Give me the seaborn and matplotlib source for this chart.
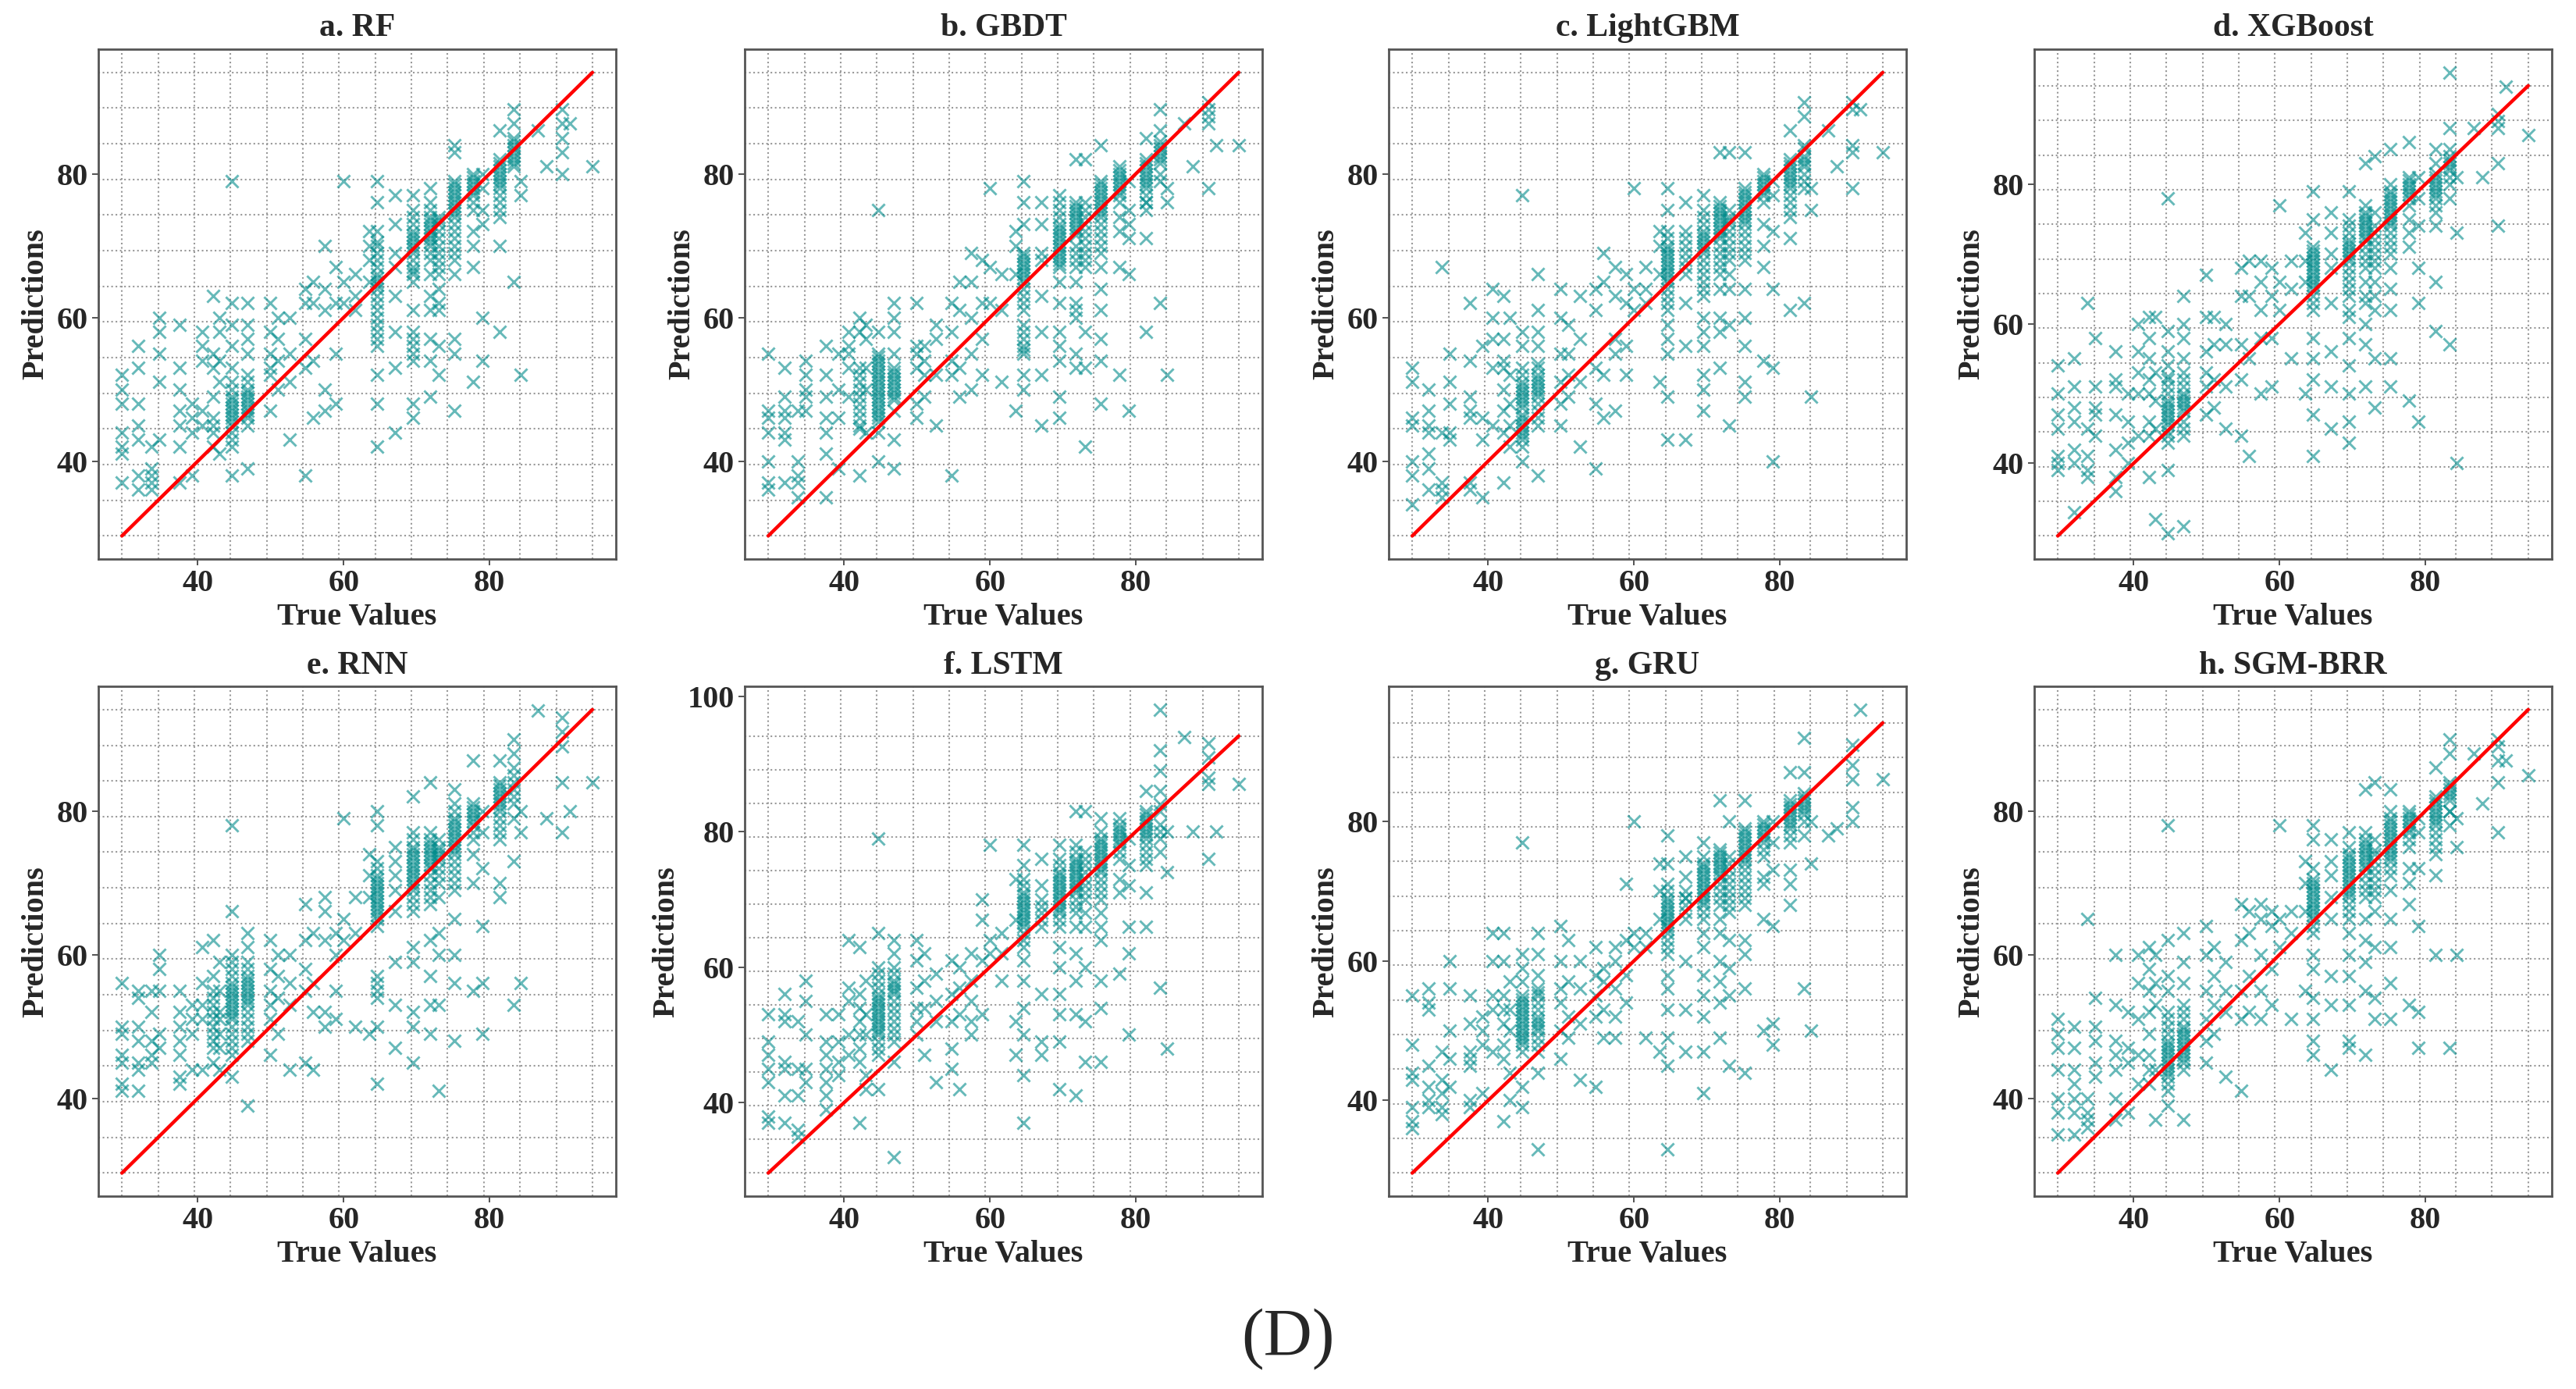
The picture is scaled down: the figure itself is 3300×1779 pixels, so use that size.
import numpy as np
import matplotlib
matplotlib.use("Agg")
import matplotlib.pyplot as plt
from matplotlib.ticker import MultipleLocator
import seaborn as sns

# true values (x columns of the test set) shared by every panel
true_cols = [29.6, 31.8, 33.6, 34.7, 37.5, 39.2, 40.6, 42.1, 43.0, 44.7, 46.8, 49.9,
             51.0, 52.6, 54.7, 55.8, 57.4, 58.9, 60.0, 61.6, 63.5, 64.6, 67.0, 69.5,
             71.8, 73.0, 75.2, 77.7, 79.0, 81.4, 83.3, 84.3, 86.6, 87.8, 89.9, 91.0, 94.1]

# predictions, one sub-list per true-value column
pred_rf = [
    [52, 50, 48, 44, 42, 41, 37], [56, 53, 48, 45, 43, 38, 36], [42, 39, 38, 37, 36],
    [60, 58, 55, 51, 43], [59, 53, 50, 47, 45, 42, 37], [48, 46, 44, 38],
    [58, 56, 54, 47, 45], [63, 55, 53, 49, 46, 45, 44, 42], [60, 58, 54, 51, 41],
    [79, 62, 59, 56, 53, 51, 49, 48, 47, 46, 45, 44, 42, 38, 50, 48.5, 47.5, 46.5, 45.5, 43],
    [62, 59, 57, 55, 52, 50, 49, 48, 47, 46, 45, 39, 51, 49.5, 48.5, 47.5, 46.5],
    [62, 58, 55, 53, 52, 47],
    [60, 57, 54, 50], [60, 55, 51, 43], [64, 62, 57, 53, 38], [65, 62, 54, 46],
    [70, 64, 61, 50, 47], [67, 62, 55, 48], [79, 65, 62], [66, 63, 61], [72, 70, 68, 65],
    [79, 76, 72, 70, 68, 66, 65, 64, 63, 61, 60, 58, 57, 52, 48, 42,
     70.5, 69, 67, 65.5, 64.5, 62, 59, 56],
    [77, 73, 69, 67, 63, 58, 53, 44],
    [77, 75, 74, 72, 71, 70, 69, 67, 66, 65, 61, 58, 56, 54, 48, 46,
     73, 71.5, 70.5, 69.5, 68, 66.5, 57, 55],
    [78, 76, 74, 73, 72, 71, 70, 68, 66, 63, 61, 57, 54, 49, 75, 73.5, 72.5, 71.5, 70.5, 69],
    [74, 73, 72, 70, 68, 66, 64, 61, 56, 52, 73.5, 71, 69, 67, 62],
    [84, 83, 79, 78, 77, 76, 75, 74, 72, 70, 68, 66, 57, 55, 47,
     78.5, 77.5, 76.5, 75.5, 74.5, 73, 71, 69],
    [80, 79, 78, 77, 75, 72, 70, 67, 51, 79.5, 78.5, 77.5, 76], [80, 78, 75, 73, 60, 54],
    [86, 82, 81, 80, 79, 78, 76, 74, 70, 58, 81.5, 80.5, 79.5, 78.5, 77, 75],
    [89, 87, 85, 84, 83, 82, 81, 65, 84.5, 83.5, 82.5, 81.5],
    [79, 77, 52], [86], [81], [89, 87, 85, 83, 80], [87], [81]]

pred_gbdt = [
    [55, 47, 46, 44, 40, 37, 36], [53, 49, 47, 46, 44, 43, 37], [47, 40, 38, 37, 35],
    [54, 52, 50, 49, 47], [56, 52, 49, 46, 44, 41, 35], [55, 50, 46, 39],
    [58, 56, 55, 53, 49], [60, 58, 53, 51, 49, 47, 45, 38, 52, 50, 48, 46, 44.5],
    [59, 57, 53, 50, 44],
    [75, 58, 55, 54, 53, 52, 51, 50, 49, 48, 47, 46, 44, 40,
     54.5, 53.5, 52.5, 51.5, 50.5, 49.5, 48.5, 47.5, 46.5, 45.5],
    [62, 60, 58, 55, 53, 52, 51, 50, 49, 47, 43, 39, 52.5, 51.5, 50.5, 49.5, 48.5],
    [62, 56, 55, 53, 48, 46],
    [56, 54, 52, 49], [59, 57, 52, 45], [62, 58, 54, 52, 38], [65, 61, 53, 49],
    [69, 65, 60, 55, 50], [68, 62, 57, 52], [78, 67, 62], [66, 61, 51], [72, 70, 66, 47],
    [79, 76, 73, 69, 68, 67, 66, 65, 63, 61, 59, 58, 56, 55, 52, 50,
     68.5, 67.5, 66.5, 65.5, 64, 62, 57, 55.5],
    [76, 73, 69, 68, 63, 58, 52, 45],
    [77, 75, 73, 72, 71, 70, 69, 68, 67, 65, 62, 58, 56, 54, 49, 46,
     76, 74, 72.5, 71.5, 70.5, 69.5, 68.5, 67.5],
    [82, 76, 75, 74, 73, 72, 70, 69, 67, 65, 62, 60, 55, 53,
     75.5, 74.5, 73.5, 72.5, 71.5, 68, 61],
    [82, 76, 74, 73, 71, 69, 67, 58, 53, 42, 75, 72, 70, 68],
    [84, 79, 78, 77, 76, 75, 74, 72, 70, 67, 64, 61, 57, 54, 48,
     78.5, 77.5, 76.5, 75.5, 74.5, 73, 71, 69],
    [81, 80, 79, 78, 77, 74, 72, 67, 52, 80.5, 79.5, 78.5, 77.5, 76],
    [79, 75, 73, 71, 66, 47],
    [85, 82, 81, 80, 79, 78, 76, 75, 71, 58, 81.5, 80.5, 79.5, 78.5, 77, 76],
    [89, 86, 84, 83, 82, 80, 79, 62, 84.5, 83.5, 82.5, 81.5],
    [78, 76, 52], [87], [81], [90, 89, 88, 87, 78], [84], [84]]

pred_lgbm = [
    [53, 51, 46, 45, 40, 38, 34], [50, 47, 45, 44, 41, 39, 36], [67, 44, 37, 36, 35],
    [55, 51, 48, 44, 43], [62, 54, 49, 47, 46, 37, 36], [56, 46, 43, 35],
    [64, 60, 57, 53, 45], [63, 57, 54, 53, 50, 47, 44, 37], [60, 52, 48, 45, 42],
    [77, 58, 56, 53, 51, 50, 49, 48, 46, 45, 44, 43, 42, 40,
     52, 50.5, 49.5, 48.5, 47.5, 46.5, 45.5, 44.5, 43.5],
    [66, 61, 58, 56, 53, 52, 51, 50, 49, 47, 45, 38, 53.5, 51.5, 50.5, 49.5, 48, 46],
    [64, 60, 55, 51, 48, 45],
    [59, 55, 52, 49], [63, 57, 51, 42], [64, 61, 53, 48, 39], [69, 65, 52, 46],
    [67, 63, 57, 55, 47], [66, 62, 56, 52], [78, 64, 61], [67, 64, 62], [72, 70, 66, 51],
    [78, 75, 72, 70, 69, 68, 67, 66, 65, 63, 61, 59, 57, 55, 49, 43,
     71, 69.5, 68.5, 67.5, 66.5, 65.5, 64, 62],
    [76, 72, 70, 68, 66, 62, 56, 43, 69, 67, 71],
    [77, 75, 74, 72, 71, 70, 69, 67, 65, 63, 60, 58, 56, 52, 50, 47,
     73, 71.5, 70.5, 69.5, 68, 66, 64],
    [83, 76, 75, 74, 73, 72, 71, 70, 68, 66, 64, 60, 58, 53,
     75.5, 74.5, 73.5, 72.5, 71.5, 69, 67],
    [83, 75, 74, 73, 72, 70, 68, 64, 59, 45, 73.5, 71, 69, 66],
    [83, 78, 77, 76, 75, 74, 73, 72, 70, 68, 64, 60, 56, 51, 49,
     77.5, 76.5, 75.5, 74.5, 73.5, 71, 69],
    [80, 79, 78, 77, 76, 73, 70, 67, 54, 79.5, 78.5, 77.5], [79, 77, 72, 64, 53, 40],
    [86, 82, 81, 80, 79, 78, 76, 74, 71, 61, 81.5, 80.5, 79.5, 78.5, 77, 75],
    [90, 88, 84, 82, 81, 80, 78, 62, 83.5, 82.5, 81.5, 79],
    [78, 75, 49], [86], [81], [90, 89, 84, 83, 78], [89], [83]]

pred_xgb = [
    [54, 50, 47, 45, 41, 40, 39], [55, 51, 48, 46, 42, 40, 33], [63, 45, 41, 39, 38],
    [58, 51, 48, 47, 44], [56, 52, 51, 47, 42, 38, 36], [50, 46, 43, 40],
    [60, 56, 53, 50, 44], [61, 58, 55, 52, 50, 46, 44, 38], [61, 53, 49, 45, 32],
    [78, 59, 56, 54, 52, 51, 49, 48, 47, 46, 44, 43, 39, 30,
     52.5, 50, 48.5, 47.5, 46.5, 45.5, 44.5],
    [64, 60, 58, 55, 53, 52, 50, 49, 48, 46, 44, 31, 51, 49.5, 48.5, 47.5, 45],
    [67, 61, 56, 53, 51, 47],
    [61, 57, 52, 48], [60, 57, 51, 45], [68, 64, 57, 52, 44], [69, 64, 55, 41],
    [69, 66, 62, 58, 50], [68, 64, 58, 51], [77, 66, 62], [69, 65, 55], [73, 69, 66, 50],
    [79, 75, 71, 70, 69, 68, 67, 66, 65, 64, 62, 58, 55, 52, 47, 41,
     70.5, 69.5, 68.5, 67.5, 66.5, 65.5, 63],
    [76, 73, 70, 68, 63, 56, 51, 45],
    [79, 75, 74, 72, 71, 70, 69, 68, 66, 64, 61, 58, 54, 50, 46, 43,
     73, 71.5, 70.5, 69.5, 67, 65, 62],
    [83, 77, 76, 75, 74, 73, 72, 70, 68, 66, 63, 60, 57, 51,
     75.5, 74.5, 73.5, 72.5, 71, 69, 64],
    [84, 76, 74, 72, 71, 69, 66, 62, 55, 48, 73, 70, 68, 64],
    [85, 80, 79, 78, 77, 76, 75, 74, 72, 70, 68, 65, 62, 55, 51,
     78.5, 77.5, 76.5, 75.5, 74.5, 73, 71],
    [86, 81, 80, 79, 78, 75, 73, 71, 49, 80.5, 79.5, 78.5, 77], [81, 78, 74, 68, 63, 46],
    [85, 83, 81, 80, 79, 78, 76, 74, 66, 59, 81.5, 80.5, 79.5, 78.5, 77],
    [96, 88, 85, 83, 82, 80, 78, 57, 84, 83.5, 82.5, 81],
    [81, 73, 40], [88], [81], [90, 89, 88, 83, 74], [94], [87]]

pred_rnn = [
    [56, 50, 49, 46, 45, 42, 41], [55, 54, 50, 48, 45, 44, 41], [55, 52, 48, 46, 45],
    [60, 58, 55, 49, 47], [55, 52, 50, 48, 46, 43, 42], [53, 51, 49, 44],
    [61, 56, 53, 51, 44], [62, 57, 55, 53, 51, 49, 47, 45, 54, 52, 50, 48],
    [59, 55, 52, 49, 44, 51, 47],
    [78, 66, 60, 58, 56, 55, 54, 53, 52, 51, 50, 48, 46, 43,
     59, 57, 55.5, 54.5, 53.5, 52.5, 51.5, 49, 47],
    [63, 61, 59, 57, 56, 55, 54, 53, 52, 50, 48, 39,
     58, 56.5, 55.5, 54.5, 53.5, 51, 49],
    [62, 58, 55, 53, 51, 46],
    [60, 57, 54, 49], [60, 56, 53, 44], [67, 62, 58, 55, 45], [63, 56, 52, 44],
    [68, 66, 62, 52, 50], [63, 60, 55, 51], [79, 65, 62], [68, 63, 50], [74, 71, 68, 49],
    [80, 78, 73, 71, 70, 69, 68, 67, 66, 65, 64, 57, 55, 54, 50, 42,
     72, 70.5, 69.5, 68.5, 67.5, 66.5, 65.5, 56],
    [75, 73, 71, 69, 66, 59, 53, 47],
    [82, 77, 75, 74, 73, 72, 71, 70, 69, 68, 66, 61, 59, 52, 50, 45,
     76, 74.5, 73.5, 72.5, 71.5, 70.5, 69.5, 67],
    [84, 77, 76, 75, 74, 73, 72, 71, 69, 67, 62, 57, 53, 49,
     75.5, 74.5, 73.5, 72.5, 70, 68],
    [76, 75, 74, 73, 71, 68, 63, 60, 53, 41, 74.5, 73.5, 72, 70],
    [83, 81, 79, 78, 77, 76, 75, 74, 73, 71, 69, 65, 60, 56, 48,
     80, 78.5, 77.5, 76.5, 75.5, 74.5, 72, 70],
    [87, 81, 80, 79, 78, 76, 74, 70, 55, 80.5, 79.5, 78.5, 77], [80, 77, 72, 64, 56, 49],
    [87, 84, 83, 82, 81, 80, 78, 76, 70, 68, 83.5, 82.5, 81.5, 80.5, 79, 77],
    [90, 88, 86, 84, 83, 81, 73, 53, 85, 82, 79],
    [80, 77, 56], [94], [79], [93, 91, 89, 84, 77], [80], [84]]

pred_lstm = [
    [53, 49, 47, 45, 43, 38, 37], [56, 53, 52, 46, 45, 41, 37], [52, 45, 41, 36, 35],
    [58, 55, 50, 45, 43], [53, 49, 47, 45, 43, 41, 39], [53, 49, 46, 44],
    [64, 57, 55, 50, 47], [63, 56, 54, 52, 50, 48, 46, 37], [58, 53, 50, 44, 42],
    [79, 65, 60, 58, 56, 55, 54, 53, 52, 51, 50, 49, 47, 42,
     59, 57, 55.5, 54.5, 53.5, 52.5, 51.5, 50.5, 48],
    [64, 62, 60, 58, 57, 56, 55, 53, 51, 49, 46, 32, 59, 57.5, 56.5, 54, 52, 50],
    [64, 61, 57, 54, 52, 50],
    [62, 58, 54, 47], [59, 55, 52, 43], [61, 56, 52, 48, 45], [60, 57, 53, 42],
    [62, 58, 55, 52, 50], [70, 67, 61, 53], [78, 64, 62], [65, 62, 58], [73, 67, 52, 47],
    [78, 75, 73, 71, 70, 69, 68, 67, 66, 64, 61, 58, 54, 50, 44, 37,
     72, 70.5, 69.5, 68.5, 67.5, 66.5, 65, 63],
    [76, 72, 70, 68, 66, 56, 49, 47, 69, 67],
    [78, 76, 74, 73, 72, 71, 70, 69, 68, 66, 63, 60, 56, 53, 49, 42,
     75, 73.5, 72.5, 71.5, 70.5, 69.5, 68.5, 67],
    [83, 78, 76, 75, 74, 73, 72, 71, 69, 66, 62, 58, 53, 41,
     77, 75.5, 74.5, 73.5, 72.5, 71.5, 70, 68],
    [83, 77, 75, 74, 72, 70, 66, 60, 52, 46, 76, 73, 71, 68],
    [82, 80, 79, 78, 77, 76, 75, 74, 73, 71, 68, 64, 58, 54, 46,
     78.5, 77.5, 76.5, 75.5, 74.5, 72, 70, 66],
    [82, 81, 80, 79, 78, 76, 73, 71, 59, 80.5, 79.5, 78.5, 77], [79, 75, 72, 66, 62, 50],
    [86, 83, 82, 81, 80, 79, 78, 75, 71, 66, 82.5, 81.5, 80.5, 79.5, 77, 76],
    [98, 92, 89, 86, 84, 81, 77, 57, 83, 80, 79],
    [80, 74, 48], [94], [80], [93, 91, 88, 87, 76], [80], [87]]

pred_gru = [
    [55, 48, 44, 43, 39, 37, 36], [56, 54, 53, 45, 42, 40, 39], [47, 43, 41, 39, 38],
    [60, 56, 50, 46, 42], [55, 51, 47, 46, 45, 40, 39], [52, 50, 48, 41],
    [64, 60, 55, 53, 47], [64, 60, 55, 53, 51, 48, 46, 37], [57, 53, 50, 44, 40],
    [77, 61, 59, 57, 55, 54, 53, 52, 51, 50, 49, 47, 42, 39,
     54.5, 53.5, 52.5, 51.5, 50.5, 49.5, 48.5, 48],
    [64, 61, 58, 56, 55, 54, 52, 51, 50, 48, 44, 33, 55.5, 53, 51.5, 50.5, 49, 47],
    [65, 60, 56, 54, 50, 46],
    [63, 57, 52, 49], [60, 56, 51, 43], [62, 58, 55, 52, 42], [59, 57, 53, 49],
    [62, 60, 56, 52, 49], [71, 63, 58, 54], [80, 64, 62], [64, 62, 49], [74, 70, 66, 47],
    [78, 74, 71, 69, 68, 67, 66, 65, 64, 62, 58, 56, 53, 49, 45, 33,
     70, 68.5, 67.5, 66.5, 65.5, 64.5, 63, 61],
    [75, 72, 69, 68, 66, 60, 53, 47, 69, 67, 70],
    [77, 75, 74, 73, 72, 71, 70, 69, 68, 66, 62, 58, 55, 52, 47, 41,
     73.5, 72.5, 71.5, 70.5, 69.5, 68.5, 67, 64],
    [83, 76, 75, 74, 73, 72, 71, 69, 66, 64, 60, 57, 54, 49,
     75.5, 74.5, 73.5, 72.5, 70, 68],
    [80, 75, 73, 71, 69, 67, 63, 59, 55, 45, 74, 72, 70, 68],
    [83, 79, 78, 77, 76, 75, 74, 73, 72, 70, 68, 63, 61, 56, 44,
     78.5, 77.5, 76.5, 75.5, 74.5, 71, 69],
    [80, 79, 78, 77, 76, 72, 71, 66, 50, 79.5, 78.5, 77.5, 75], [80, 77, 73, 65, 51, 48],
    [87, 83, 82, 81, 80, 79, 77, 73, 71, 68, 82.5, 81.5, 80.5, 79.5, 78],
    [92, 87, 84, 83, 82, 81, 78, 56, 83.5, 82.5, 81.5, 80],
    [80, 74, 50], [78], [79], [91, 88, 86, 82, 80], [96], [86]]

pred_sgm = [
    [51, 49, 47, 44, 40, 38, 35], [50, 47, 44, 42, 40, 38, 35], [65, 40, 38, 37, 36],
    [54, 50, 48, 45, 43], [60, 53, 48, 46, 44, 40, 37], [52, 47, 45, 38],
    [60, 56, 51, 46, 42], [61, 58, 55, 52, 49, 46, 44, 42], [60, 56, 53, 44, 37],
    [78, 62, 57, 55, 52, 50, 48, 47, 46, 45, 44, 43, 41, 39,
     51, 49, 47.5, 46.5, 45.5, 44.5, 43.5, 42],
    [63, 59, 56, 53, 51, 50, 49, 48, 47, 46, 45, 37, 52, 49.5, 48.5, 47.5, 46.5, 45.5, 44],
    [64, 60, 55, 51, 48, 45],
    [61, 57, 53, 49], [59, 55, 52, 43], [67, 62, 55, 51, 41], [66, 63, 57, 52],
    [67, 65, 60, 55, 51], [66, 64, 58, 53], [78, 65, 61], [66, 63, 51], [73, 70, 66, 55],
    [78, 76, 72, 70, 69, 68, 67, 66, 65, 63, 60, 58, 54, 51, 48, 46,
     70.5, 69.5, 68.5, 67.5, 66.5, 65.5, 64],
    [76, 73, 71, 68, 65, 57, 53, 44],
    [77, 75, 74, 73, 72, 71, 70, 69, 68, 66, 63, 60, 57, 53, 48, 47,
     73.5, 72.5, 71.5, 70.5, 69.5, 68.5, 67, 65],
    [83, 77, 76, 75, 74, 73, 72, 70, 68, 65, 62, 59, 55, 46,
     75.5, 74.5, 73.5, 72.5, 71, 69],
    [84, 76, 74, 73, 71, 69, 66, 61, 54, 51, 74.5, 72, 70, 68],
    [83, 80, 79, 78, 77, 76, 75, 74, 73, 71, 69, 65, 61, 56, 51,
     78.5, 77.5, 76.5, 75.5, 74.5, 73.5, 72],
    [80, 79, 78, 77, 75, 72, 70, 67, 53, 79.5, 78.5, 77.5, 76], [79, 77, 72, 64, 52, 47],
    [86, 82, 81, 80, 79, 78, 76, 74, 71, 60, 81.5, 80.5, 79.5, 78.5, 77, 75],
    [90, 88, 84, 83, 82, 80, 78, 47, 83.5, 82.5, 81.5, 80],
    [79, 75, 60], [88], [81], [90, 89, 87, 84, 77], [87], [85]]

titles = ["a. RF", "b. GBDT", "c. LightGBM", "d. XGBoost",
          "e. RNN", "f. LSTM", "g. GRU", "h. SGM-BRR"]
all_preds = [pred_rf, pred_gbdt, pred_lgbm, pred_xgb,
             pred_rnn, pred_lstm, pred_gru, pred_sgm]

sns.set_style("white")
plt.rcParams["font.family"] = ["Liberation Serif", "DejaVu Serif"]

fig = plt.figure(figsize=(33, 17.79), dpi=100)

lefts = [0.0382, 0.2891, 0.5391, 0.7897]
bottoms = [0.5975, 0.1388]
w, h = 0.2009, 0.367

lo, hi = min(true_cols), max(true_cols)
grid_pos = np.linspace(lo, hi, 14)

for i, (title, preds) in enumerate(zip(titles, all_preds)):
    ax = fig.add_axes([lefts[i % 4], bottoms[i // 4], w, h])
    x = np.repeat(true_cols, [len(p) for p in preds])
    y = np.concatenate([np.array(p, dtype=float) for p in preds])

    sns.scatterplot(x=x, y=y, ax=ax, marker="x", color="#008b8b", alpha=0.6,
                    s=135, linewidth=2.1, zorder=3)
    sns.lineplot(x=[lo, hi], y=[lo, hi], ax=ax, color="red", linewidth=3.2, zorder=4)

    ax.xaxis.set_major_locator(MultipleLocator(20))
    ax.yaxis.set_major_locator(MultipleLocator(20))
    ax.set_xticks(grid_pos, minor=True)
    ax.set_yticks(grid_pos, minor=True)
    ax.grid(False, which="major")
    ax.grid(True, which="minor", linestyle=":", color="#999999", linewidth=1.5)
    ax.set_axisbelow(True)

    ax.tick_params(which="major", length=6, width=1.3, bottom=True, left=True,
                   labelsize=29, color="#444444")
    ax.tick_params(which="minor", length=0)
    for lab in ax.get_xticklabels() + ax.get_yticklabels():
        lab.set_fontweight("bold")
    for sp in ax.spines.values():
        sp.set_color("#555555")
        sp.set_linewidth(2.0)

    ax.set_title(title, fontsize=30, fontweight="bold", pad=12)
    ax.set_xlabel("True Values", fontsize=29, fontweight="bold", labelpad=4)
    ax.set_ylabel("Predictions", fontsize=29, fontweight="bold", labelpad=6)

fig.text(0.5, 0.036, "(D)", ha="center", va="center", fontsize=62)

fig.savefig("out.png", dpi=100)
